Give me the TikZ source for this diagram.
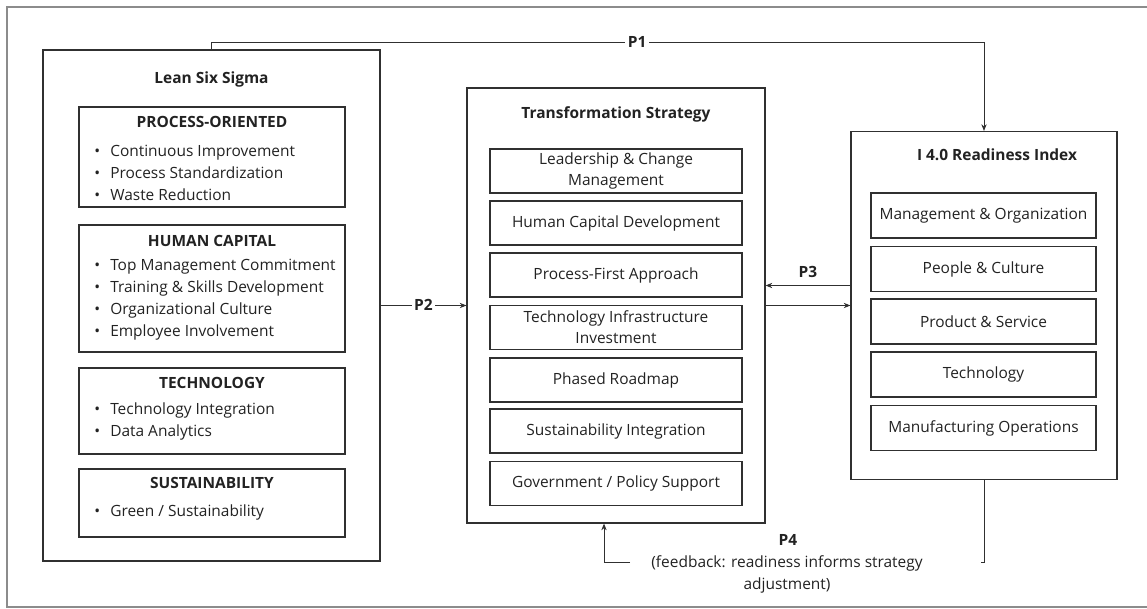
\documentclass[tikz,border=0pt]{standalone}
\usepackage{fontspec}
\setmainfont{Open Sans}
\usetikzlibrary{arrows.meta,calc}
\definecolor{boxc}{HTML}{303030}
\definecolor{txtc}{HTML}{222222}
\definecolor{framec}{HTML}{8C8C8C}
\newdimen\px \px=0.75pt
\newcommand\myfs{\fontsize{11.6}{15.8}\selectfont}
\newcommand\bul{\llap{\makebox[26\px]{•}}}
\begin{document}
\begin{tikzpicture}[x=0.75pt,y=-0.75pt,
  every node/.style={font=\myfs, text=txtc},
  box/.style={draw=boxc, line width=0.9pt, inner sep=0pt, rectangle},
  grp/.style={box, minimum width=266\px},
  sbox/.style={box, minimum width=252\px, minimum height=44\px, align=center},
  ibox/.style={box, minimum width=225\px, minimum height=45\px, align=center},
  ttl/.style={font=\myfs\bfseries, inner sep=0pt, text height=8pt, text depth=0pt},
  item/.style={anchor=west, inner sep=0pt, text height=8pt, text depth=0pt},
  conn/.style={draw=boxc, line width=0.7pt},
  arr/.style={conn, -{Stealth[length=5pt,width=4pt]}},
  lbl/.style={font=\myfs\bfseries, fill=white, inner sep=2pt, text height=8pt, text depth=0pt},
]
\useasboundingbox (0,0) rectangle (1147,608);
% outer frame
\draw[framec, line width=1pt] (1147,7) -- (7,7) -- (7,607) -- (1147,607);

% ---------------- Lean Six Sigma ----------------
\node[box, minimum width=337\px, minimum height=511\px] (lss) at (211.5,305.5) {};
\node[ttl] (lsst) at (211.5,78) {Lean Six Sigma};

\node[grp, minimum height=100\px] (po) at (212,157) {};
\node[ttl] (pot) at (212,122) {PROCESS-ORIENTED};
\node[item] (po1) at (110,151) {\bul Continuous Improvement};
\node[item] (po2) at (110,173) {\bul Process Standardization};
\node[item] (po3) at (110,195) {\bul Waste Reduction};

\node[grp, minimum height=127\px] (hc) at (212,288.5) {};
\node[ttl] (hct) at (212,241) {HUMAN CAPITAL};
\node[item] (hc1) at (110,265) {\bul Top Management Commitment};
\node[item] (hc2) at (110,287) {\bul Training \& Skills Development};
\node[item] (hc3) at (110,309) {\bul Organizational Culture};
\node[item] (hc4) at (110,331) {\bul Employee Involvement};

\node[grp, minimum height=86\px] (te) at (212,411) {};
\node[ttl] (tet) at (212,383) {TECHNOLOGY};
\node[item] (te1) at (110,409) {\bul Technology Integration};
\node[item] (te2) at (110,431) {\bul Data Analytics};

\node[grp, minimum height=68\px] (su) at (212,503) {};
\node[ttl] (sut) at (212,483) {SUSTAINABILITY};
\node[item] (su1) at (110,511) {\bul Green / Sustainability};

% ---------------- Transformation Strategy ----------------
\node[box, minimum width=298\px, minimum height=435\px] (ts) at (616,305.5) {};
\node[ttl] (tst) at (616,113) {Transformation Strategy};
\node[sbox] (ts1) at (616,171) {Leadership \& Change\\Management};
\node[sbox] (ts2) at (616,223) {Human Capital Development};
\node[sbox] (ts3) at (616,275) {Process-First Approach};
\node[sbox] (ts4) at (616,327.5) {Technology Infrastructure\\Investment};
\node[sbox] (ts5) at (616,380) {Phased Roadmap};
\node[sbox] (ts6) at (616,431) {Sustainability Integration};
\node[sbox] (ts7) at (616,483.5) {Government / Policy Support};

% ---------------- I 4.0 Readiness Index ----------------
\node[box, minimum width=266\px, minimum height=348\px] (ri) at (984,305.5) {};
\node[ttl] (rit) at (997,155) {I 4.0 Readiness Index};
\node[ibox] (ri1) at (983.5,215.5) {Management \& Organization};
\node[ibox] (ri2) at (983.5,269) {People \& Culture};
\node[ibox] (ri3) at (983.5,321.5) {Product \& Service};
\node[ibox] (ri4) at (983.5,374.5) {Technology};
\node[ibox] (ri5) at (983.5,428) {Manufacturing Operations};

% ---------------- connectors ----------------
% P1
\coordinate (p1a) at (211.5,42);
\coordinate (p1b) at (984,42);
\draw[arr] (lss.north) -- (p1a) -- node[lbl, pos=0.551] (p1l) {P1} (p1b) -- (ri.north);
% P2
\draw[arr] (lss.east) -- node[lbl] (p2l) {P2} (ts.west);
% P3
\coordinate (p3s) at ($(ri.west)+(0,-20)$);
\draw[arr] (p3s) -- (p3s -| ts.east);
\node[font=\myfs\bfseries, inner sep=0pt, text height=8pt, text depth=0pt] (p3l) at (808,272) {P3};
% TS -> RI
\draw[arr] (ts.east) -- (ri.west);
% P4 feedback
\coordinate (p4r) at (984,562);
\draw[conn] (ri.south) -- (p4r) -- ++(-3,0);
\coordinate (p4l) at (630,562);
\coordinate (p4c) at (604,562);
\draw[arr] (p4l) -- (p4c) -- (p4c |- ts.south);
\node[font=\myfs\bfseries, inner sep=0pt, text height=8pt, text depth=0pt] (p4t) at (788,540) {P4};
\node[inner sep=0pt, text height=8pt, text depth=0pt] (p4a) at (787,562) {(feedback: readiness informs strategy};
\node[inner sep=0pt, text height=8pt, text depth=0pt] (p4b) at (787,584) {adjustment)};
\end{tikzpicture}
\end{document}
